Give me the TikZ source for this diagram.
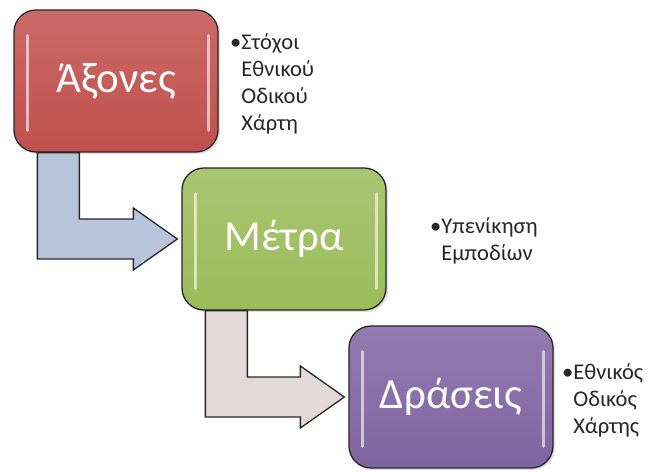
\documentclass[tikz,border=0pt]{standalone}
\usepackage{fontspec}
\setmainfont{Carlito}
\usetikzlibrary{calc,shadows}

\definecolor{redbox}{HTML}{C0504D}
\definecolor{greenbox}{HTML}{9BBB59}
\definecolor{violetbox}{HTML}{8064A2}
\definecolor{bluearrow}{HTML}{B7C4DA}
\definecolor{pinkarrow}{HTML}{E4D9D9}
\definecolor{notetext}{HTML}{262626}

\tikzset{
  stage/.style={draw=black!85,line width=1.3pt,rounded corners=22pt,
    minimum width=204pt,minimum height=142pt,text=white,
    font=\fontsize{43}{46}\selectfont,
    drop shadow={opacity=0.25,shadow xshift=2pt,shadow yshift=-2pt}},
  note/.style={anchor=west,align=left,text=notetext,
    font=\fontsize{22.5}{27}\selectfont},
  bentarrow/.style={draw=black!85,line width=1.3pt,line join=miter}
}

\begin{document}
\begin{tikzpicture}[x=1pt,y=1pt]
    \useasboundingbox (0,0) rectangle (664,473);
    \node[stage,top color=redbox!85!white,bottom color=redbox] (ax) at (116,392) {Άξονες};
    \node[stage,top color=greenbox!85!white,bottom color=greenbox] (me) at (284,234) {Μέτρα};
    \node[stage,top color=violetbox!85!white,bottom color=violetbox] (dr) at (451,76) {Δράσεις};
    % glossy edges
    \foreach \b in {ax,me,dr}{
      \draw[white,opacity=0.6,line width=2.5pt,line cap=round]
        ($(\b.north west)+(14,-26)$) -- ($(\b.south west)+(14,22)$);
      \draw[white,opacity=0.6,line width=2.5pt,line cap=round]
        ($(\b.north east)+(-10,-26)$) -- ($(\b.south east)+(-10,22)$);
    }
    % bent arrows
    \foreach \a/\b/\c in {ax/me/bluearrow,me/dr/pinkarrow}{
      \coordinate (p1) at ($(\a.south west)+(24,0)$);
      \coordinate (p2) at ($(\a.south west)+(66,0)$);
      \coordinate (lo) at ($(\b.west)+(0,-20)$);
      \coordinate (hi) at ($(\b.west)+(0,20)$);
      \coordinate (tip) at ($(\b.west)+(-4,0)$);
      \filldraw[bentarrow,fill=\c] (p1) -- (p1 |- lo) -- ($(lo)+(-48,0)$)
        -- ($(lo)+(-48,-11)$) -- (tip) -- ($(hi)+(-48,11)$)
        -- ($(hi)+(-48,0)$) -- (p2 |- hi) -- (p2) -- cycle;
    }
    \node[note] (axn) at ($(ax.east)+(8,-3)$)
      {•Στόχοι\\\phantom{•}Εθνικού\\\phantom{•}Οδικού\\\phantom{•}Χάρτη};
    \node[note] (men) at ($(me.east)+(40,-2)$)
      {•Υπενίκηση\\\phantom{•}Εμποδίων};
    \node[note] (drn) at ($(dr.east)+(5,-3)$)
      {•Εθνικός\\\phantom{•}Οδικός\\\phantom{•}Χάρτης};
\end{tikzpicture}
\end{document}
